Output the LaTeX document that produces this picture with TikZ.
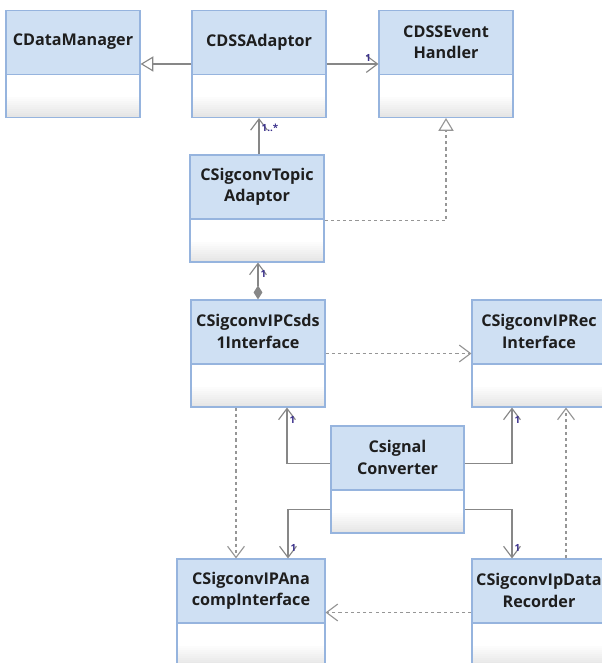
\documentclass[tikz,border=0pt]{standalone}
\usepackage{fontspec}
\setmainfont{Open Sans}
\usetikzlibrary{arrows.meta, positioning, calc}
\definecolor{hdrblue}{RGB}{207, 224, 243}
\definecolor{clsline}{RGB}{150, 180, 222}
\definecolor{conngray}{RGB}{135, 135, 135}
\definecolor{depgray}{RGB}{150, 150, 150}
\definecolor{multblue}{RGB}{60, 50, 140}
\definecolor{txtdark}{RGB}{30, 30, 30}

\begin{document}
\begin{tikzpicture}[
  cls/.style={draw=clsline, line width=0.8pt, fill=white, minimum height=2.675cm, inner sep=0pt,
    path picture={
      \foreach \k [evaluate=\k as \g using 22-2*\k] in {1,...,10}
        \fill[gray!\g] ([yshift={(\k-1)*0.5mm}]path picture bounding box.south west) rectangle ([yshift={\k*0.5mm+0.1mm}]path picture bounding box.south east);
      \fill[hdrblue] (path picture bounding box.north west) rectangle ([yshift=-1.6cm]path picture bounding box.north east);
      \draw[clsline, line width=0.8pt] ([yshift=-1.6cm]path picture bounding box.north west) -- ([yshift=-1.6cm]path picture bounding box.north east);
    }},
  ttl/.style={font=\fontsize{11.5}{15}\selectfont\bfseries, text=txtdark, align=center, inner sep=0pt},
  mult/.style={font=\fontsize{7}{8}\selectfont\bfseries, text=multblue, inner sep=1.5pt},
  assoc/.style={draw=conngray, line width=0.8pt, -{Straight Barb[length=2.8mm, width=4.2mm]}},
  gen/.style={draw=conngray, line width=0.8pt, -{Triangle[open, length=3.2mm, width=3.8mm, fill=white]}},
  comp/.style={draw=conngray, line width=0.8pt, {Diamond[length=3.5mm, width=2.2mm, fill=conngray]}-{Straight Barb[length=2.8mm, width=4.2mm]}},
  dep/.style={draw=depgray, line width=0.8pt, dash pattern=on 2.2pt off 2.2pt, -{Straight Barb[length=2.8mm, width=4.2mm]}},
  real/.style={draw=depgray, line width=0.8pt, dash pattern=on 2.2pt off 2.2pt, -{Triangle[open, length=3.2mm, width=3.8mm, fill=white]}},
]
  \useasboundingbox (0,0) rectangle (15.05,16.575);
  \clip (0,0) rectangle (15.05,16.575);
  % Classes
  \node[cls, minimum width=3.35cm]  (mgr)   at (1.825,14.975) {};
  \node[cls, minimum width=3.35cm]  (adp)   at (6.475,14.975) {};
  \node[cls, minimum width=3.35cm]  (evt)   at (11.15,14.975) {};
  \node[cls, minimum width=3.35cm]  (topic) at (6.425,11.3625) {};
  \node[cls, minimum width=3.35cm]  (csds)  at (6.45,7.7375) {};
  \node[cls, minimum width=3.35cm]  (rec)   at (13.475,7.7375) {};
  \node[cls, minimum width=3.325cm] (conv)  at (9.9375,4.5875) {};
  \node[cls, minimum width=3.7cm]   (ana)   at (6.275,1.2625) {};
  \node[cls, minimum width=3.35cm]  (rdr)   at (13.475,1.2625) {};
  % Titles
  \node[ttl] (mgr-t)   at ([yshift=-8mm]mgr.north)   {CDataManager};
  \node[ttl] (adp-t)   at ([yshift=-8mm]adp.north)   {CDSSAdaptor};
  \node[ttl] (evt-t)   at ([yshift=-8mm]evt.north)   {CDSSEvent\\Handler};
  \node[ttl] (topic-t) at ([yshift=-8mm]topic.north) {CSigconvTopic\\Adaptor};
  \node[ttl] (csds-t)  at ([yshift=-8mm]csds.north)  {CSigconvIPCsds\\1Interface};
  \node[ttl] (rec-t)   at ([yshift=-8mm]rec.north)   {CSigconvIPRec\\Interface};
  \node[ttl] (conv-t)  at ([yshift=-8mm]conv.north)  {Csignal\\Converter};
  \node[ttl] (ana-t)   at ([yshift=-8mm]ana.north)   {CSigconvIPAna\\compInterface};
  \node[ttl] (rdr-t)   at ([yshift=-8mm]rdr.north)   {CSigconvIpData\\Recorder};
  % Associations
  \draw[gen] (adp.west) -- (mgr.east);
  \draw[assoc] (adp.east) -- node[mult, pos=0.8, above] {1} (evt.west);
  \draw[assoc] (topic.north -| adp.south) -- node[mult, pos=0.72, right] {1..*} (adp.south);
  \draw[real] ([yshift=-3.1mm]topic.east) -| (evt.south);
  \draw[comp] (csds.north) -- node[mult, pos=0.7, right] {1} (csds.north |- topic.south);
  \draw[dep] (csds.east) -- (rec.west);
  % Converter links
  \draw[assoc] ([yshift=4.1mm]conv.west) -| node[mult, pos=0.89, right] {1} ([xshift=7.25mm]csds.south);
  \draw[assoc] ([yshift=4.1mm]conv.east) -| node[mult, pos=0.89, right] {1} ([xshift=-6.75mm]rec.south);
  \draw[assoc] ([yshift=-7.4mm]conv.west) -| node[mult, pos=0.89, right] {1} ([xshift=9.25mm]ana.north);
  \draw[assoc] ([yshift=-7.4mm]conv.east) -| node[mult, pos=0.89, right] {1} ([xshift=-6.75mm]rdr.north);
  % Dependencies
  \coordinate (csdsout) at ([xshift=-5.5mm]csds.south);
  \coordinate (rdrout) at ([xshift=6.75mm]rdr.north);
  \draw[dep] (csdsout) -- (csdsout |- ana.north);
  \draw[dep] (rdrout) -- (rdrout |- rec.south);
  \draw[dep] (rdr.west) -- (ana.east);
\end{tikzpicture}
\end{document}
